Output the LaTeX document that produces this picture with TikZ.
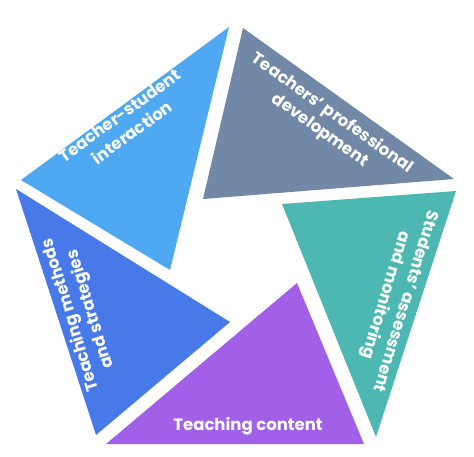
\documentclass[tikz,border=0pt]{standalone}
\usepackage{fontspec}
\setmainfont{Poppins}
\usepackage{tikz}
\newdimen\unitsize
\setlength{\unitsize}{1pt}
\definecolor{skyblue}{HTML}{4EA8F2}
\definecolor{slategrey}{HTML}{7189A6}
\definecolor{seateal}{HTML}{4DB8B2}
\definecolor{violet}{HTML}{A25FE8}
\definecolor{royalblue}{HTML}{4879E8}
\begin{document}
\begin{tikzpicture}[x=\unitsize,y=\unitsize]
\tikzset{piece/.style={draw=none}}%
\tikzset{label/.style={text=white, font=\bfseries\fontsize{16.5}{21}\selectfont, align=center, inner sep=0pt}}%
\useasboundingbox[fill=white] (0,0) rectangle (474,456);
% the five triangles
\fill[piece, skyblue] (229,429) -- (21,276) -- (170,186) -- cycle;
\fill[piece, slategrey] (243,428) -- (454,277) -- (203,257) -- cycle;
\fill[piece, seateal] (456,265) -- (282,252) -- (376,19) -- cycle;
\fill[piece, violet] (297,173) -- (364,12) -- (106,12) -- cycle;
\fill[piece, royalblue] (16,267) -- (230,134) -- (96,21) -- cycle;
% labels
\node[label, rotate=36] (interaction) at (126,332) {Teacher-student\\interaction};
\node[label, rotate=-35.5] (development) at (326,334) {Teachers' professional\\development};
\node[label, rotate=-107] (assessment) at (395,158) {Students' assessment\\and monitoring};
\node[label, rotate=107] (methods) at (81,144) {Teaching methods\\and strategies};
\node[label] (content) at (248,30) {Teaching content};
\end{tikzpicture}
\end{document}
